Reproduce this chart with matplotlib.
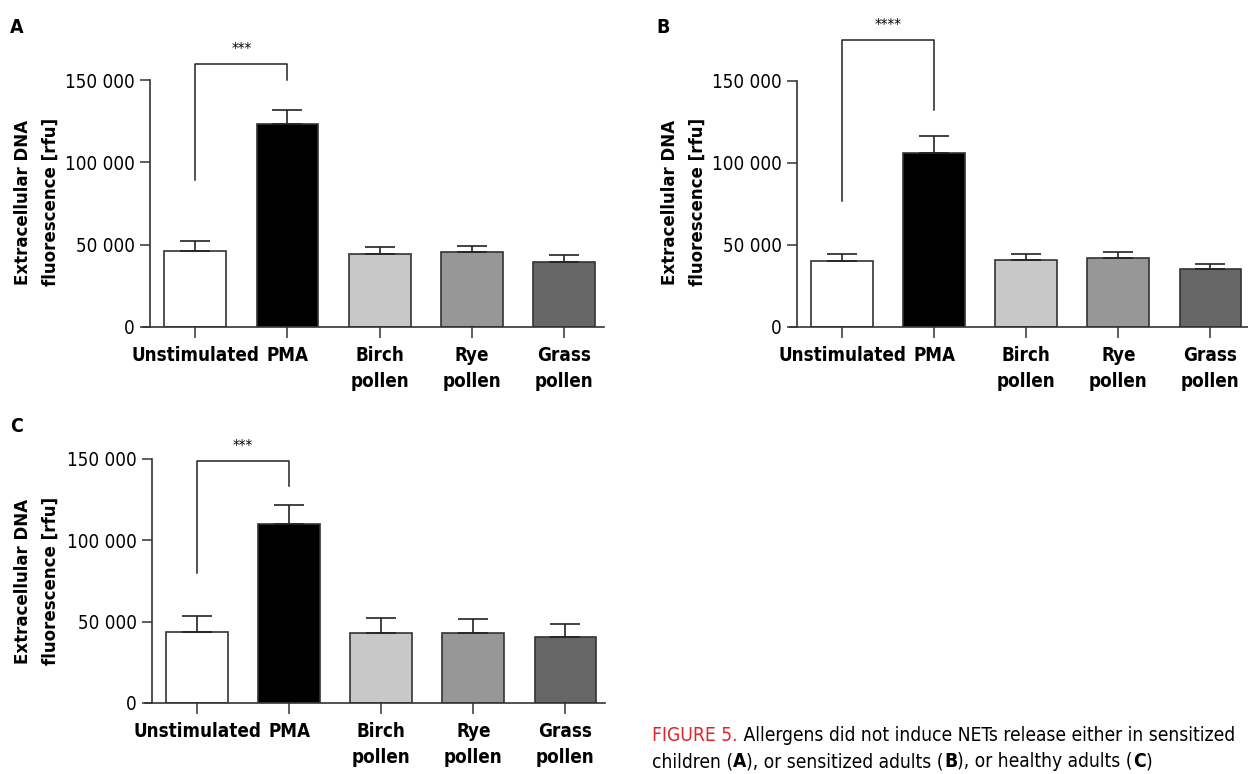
import matplotlib
matplotlib.use('Agg')
import matplotlib.pyplot as plt

# the original uses a condensed face; DejaVu Sans Condensed is the closest here
plt.rcParams['font.family'] = ['DejaVu Sans']
plt.rcParams['font.stretch'] = 'condensed'

categories = ['Unstimulated', 'PMA', 'Birch\npollen', 'Rye\npollen', 'Grass\npollen']
bar_colors = ['white', 'black', '#c8c8c8', '#979797', '#666666']
yticks = [0, 50000, 100000, 150000]
ytick_labels = ['0', '50 000', '100 000', '150 000']
ylabel = 'Extracellular DNA\nfluorescence [rfu]'

# A: sensitized children
means_a = [46200, 123000, 44500, 45300, 39400]
sem_a = [6200, 8700, 4200, 3800, 4500]
# B: sensitized adults
means_b = [40000, 106200, 40700, 42000, 35400]
sem_b = [4600, 10000, 3700, 3700, 3000]
# C: healthy adults
means_c = [43600, 110000, 43000, 43000, 40800]
sem_c = [9900, 11500, 9300, 8500, 7800]

# significance bracket: left leg bottom, right leg bottom, top, stars
bracket_a = (89300, 150000, 159700, '***')
bracket_b = (77000, 132300, 174900, '****')
bracket_c = (80200, 133300, 148800, '***')

W, H = 1248, 774
LINE = '#333333'
RED = '#e2232a'

fig = plt.figure(figsize=(W / 100, H / 100), dpi=100)


def px_axes(left, top, right, bottom):
    return fig.add_axes([left / W, 1 - bottom / H, (right - left) / W, (bottom - top) / H])


def panel(ax, means, sem, bracket):
    x = list(range(len(categories)))
    ax.bar(x, means, width=0.67, color=bar_colors, edgecolor=LINE, linewidth=1.2, zorder=2)
    ax.errorbar(x, means, yerr=[[0] * len(sem), sem], fmt='none', ecolor='#222222',
                elinewidth=1.2, capsize=11, capthick=1.2, zorder=3)
    lo_l, lo_r, top, stars = bracket
    ax.plot([0, 0, 1, 1], [lo_l, top, top, lo_r], color='#222222', lw=1.1, clip_on=False)
    ax.annotate(stars, xy=(0.5, top), xytext=(0, 5), textcoords='offset points',
                ha='center', va='bottom', fontsize=11, annotation_clip=False)
    ax.set_xlim(-0.49, 4.43)
    ax.set_ylim(0, 150000)
    ax.set_xticks(x)
    ax.set_xticklabels(categories, fontsize=13.5, fontweight='bold')
    for lab in ax.get_xticklabels():
        lab.set_linespacing(1.45)
    ax.set_yticks(yticks)
    ax.set_yticklabels(ytick_labels, fontsize=13.5)
    for s in ['top', 'right']:
        ax.spines[s].set_visible(False)
    for s in ['left', 'bottom']:
        ax.spines[s].set_color(LINE)
        ax.spines[s].set_linewidth(1.2)
    ax.spines['bottom'].set_bounds(-0.57, 4.43)
    ax.tick_params(axis='x', length=8, width=1.1, color=LINE, pad=6)
    ax.tick_params(axis='y', length=7, width=1.1, color=LINE, pad=4)
    ax.set_facecolor('none')


ax_a = px_axes(150, 80, 604, 327)
panel(ax_a, means_a, sem_a, bracket_a)
ax_b = px_axes(797, 81, 1250, 327)
panel(ax_b, means_b, sem_b, bracket_b)
ax_c = px_axes(152, 459, 605, 703)
panel(ax_c, means_c, sem_c, bracket_c)

for cx, cy in [(37, 202), (684, 202), (37, 581)]:
    fig.text(cx / W, 1 - cy / H, ylabel, rotation=90, ha='center', va='center',
             fontsize=13.3, fontweight='bold', linespacing=1.75, multialignment='center')

for letter, lx, ly in [('A', 10, 33), ('B', 656, 33), ('C', 10, 432)]:
    fig.text(lx / W, 1 - ly / H, letter, fontsize=14, fontweight='bold', va='baseline')

# caption, built piece by piece so the colours and bold letters line up
cap = fig.add_axes([0, 0, 1, 1])
cap.axis('off')
cap.set_zorder(-1)
line1 = [('FIGURE 5.', RED, 'normal'),
         (' Allergens did not induce NETs release either in sensitized', 'black', 'normal')]
line2 = [('children (', 'black', 'normal'), ('A', 'black', 'bold'),
         ('), or sensitized adults (', 'black', 'normal'), ('B', 'black', 'bold'),
         ('), or healthy adults (', 'black', 'normal'), ('C', 'black', 'bold'),
         (')', 'black', 'normal')]
for pieces, base in [(line1, 741), (line2, 767)]:
    prev = None
    for txt, col, wt in pieces:
        if prev is None:
            prev = cap.text(652 / W, 1 - base / H, txt, color=col, fontweight=wt,
                            fontsize=13.8, va='baseline', transform=cap.transAxes)
        else:
            prev = cap.annotate(txt, xy=(1, 0), xycoords=prev, va='bottom', color=col,
                                fontweight=wt, fontsize=13.8)

fig.savefig('out.png', dpi=100)
